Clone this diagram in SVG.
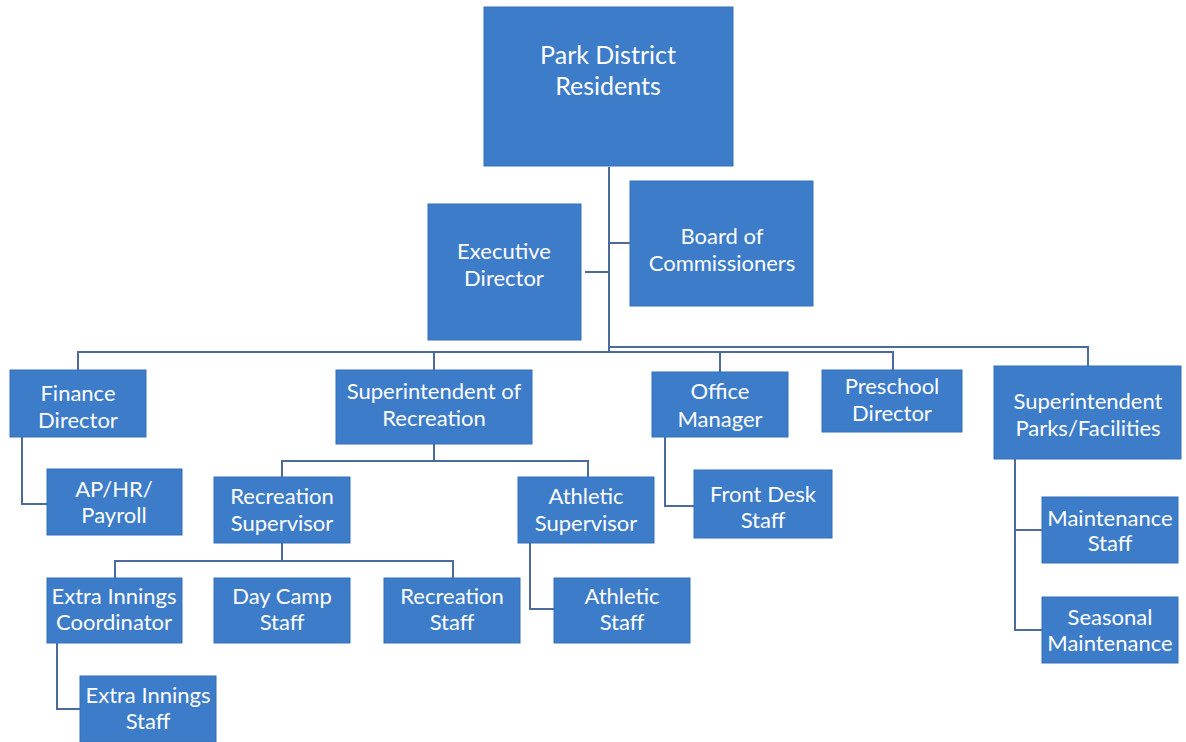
<svg xmlns="http://www.w3.org/2000/svg" width="1186" height="742" viewBox="0 0 1186 742">
<style>
.b{fill:#3d7cc9;stroke:#3570ba;stroke-width:1}
.t{fill:#fdfdfd;font-family:Lato,"Liberation Sans",sans-serif;font-size:22px;text-anchor:middle}
.big{font-size:25px}
.c{fill:none;stroke:#4d6a9c;stroke-width:2}
</style>
<rect width="1186" height="742" fill="#fff"/>
<g id="connectors">
<path class="c" d="M609 167V351M585 272H609M609 243H630M609 347H1088V366"/>
<path class="c" d="M78 370V352H893V370M434 352V370M720 352V372"/>
<path class="c" d="M22 437V504H47"/>
<path class="c" d="M434 444V461M282 477V461H588V477"/>
<path class="c" d="M282 543V561M115 578V561H453V578"/>
<path class="c" d="M57 643V709H80"/>
<path class="c" d="M530 543V609H554"/>
<path class="c" d="M665 437V506H694"/>
<path class="c" d="M1015 459V630H1042M1015 530H1042"/>
</g>
<g id="park"><rect class="b" x="484" y="7" width="249" height="159"/><text class="t big" x="608" y="64">Park District</text><text class="t big" x="608" y="95">Residents</text></g>
<g id="exec"><rect class="b" x="428" y="204" width="153" height="136"/><text class="t" x="504" y="259">Executive</text><text class="t" x="504" y="286">Director</text></g>
<g id="board"><rect class="b" x="630" y="181" width="183" height="125"/><text class="t" x="722" y="244">Board of</text><text class="t" x="722" y="271">Commissioners</text></g>
<g id="finance"><rect class="b" x="10" y="370" width="136" height="67"/><text class="t" x="78" y="401">Finance</text><text class="t" x="78" y="428">Director</text></g>
<g id="suprec"><rect class="b" x="336" y="370" width="196" height="74"/><text class="t" x="434" y="399">Superintendent of</text><text class="t" x="434" y="426">Recreation</text></g>
<g id="office"><rect class="b" x="652" y="372" width="136" height="65"/><text class="t" x="720" y="399">Office</text><text class="t" x="720" y="427">Manager</text></g>
<g id="preschool"><rect class="b" x="822" y="370" width="140" height="62"/><text class="t" x="892" y="394">Preschool</text><text class="t" x="892" y="421">Director</text></g>
<g id="supparks"><rect class="b" x="994" y="366" width="187" height="93"/><text class="t" x="1088" y="409">Superintendent</text><text class="t" x="1088" y="436">Parks/Facilities</text></g>
<g id="ap"><rect class="b" x="47" y="469" width="135" height="66"/><text class="t" x="114" y="497">AP/HR/</text><text class="t" x="114" y="523">Payroll</text></g>
<g id="recsup"><rect class="b" x="214" y="477" width="136" height="66"/><text class="t" x="282" y="504">Recreation</text><text class="t" x="282" y="531">Supervisor</text></g>
<g id="athsup"><rect class="b" x="518" y="477" width="136" height="66"/><text class="t" x="586" y="504">Athletic</text><text class="t" x="586" y="531">Supervisor</text></g>
<g id="frontdesk"><rect class="b" x="694" y="470" width="138" height="68"/><text class="t" x="763" y="502">Front Desk</text><text class="t" x="763" y="528">Staff</text></g>
<g id="maint"><rect class="b" x="1042" y="497" width="136" height="66"/><text class="t" x="1110" y="526">Maintenance</text><text class="t" x="1110" y="551">Staff</text></g>
<g id="seasonal"><rect class="b" x="1042" y="597" width="136" height="66"/><text class="t" x="1110" y="625">Seasonal</text><text class="t" x="1110" y="651">Maintenance</text></g>
<g id="eicoord"><rect class="b" x="47" y="578" width="135" height="65"/><text class="t" x="114" y="604">Extra Innings</text><text class="t" x="114" y="630">Coordinator</text></g>
<g id="daycamp"><rect class="b" x="214" y="578" width="136" height="65"/><text class="t" x="282" y="604">Day Camp</text><text class="t" x="282" y="630">Staff</text></g>
<g id="recstaff"><rect class="b" x="384" y="578" width="136" height="65"/><text class="t" x="452" y="604">Recreation</text><text class="t" x="452" y="630">Staff</text></g>
<g id="athstaff"><rect class="b" x="554" y="578" width="136" height="65"/><text class="t" x="622" y="604">Athletic</text><text class="t" x="622" y="630">Staff</text></g>
<g id="eistaff"><rect class="b" x="80" y="676" width="136" height="66"/><text class="t" x="148" y="703">Extra Innings</text><text class="t" x="148" y="729">Staff</text></g>
</svg>
